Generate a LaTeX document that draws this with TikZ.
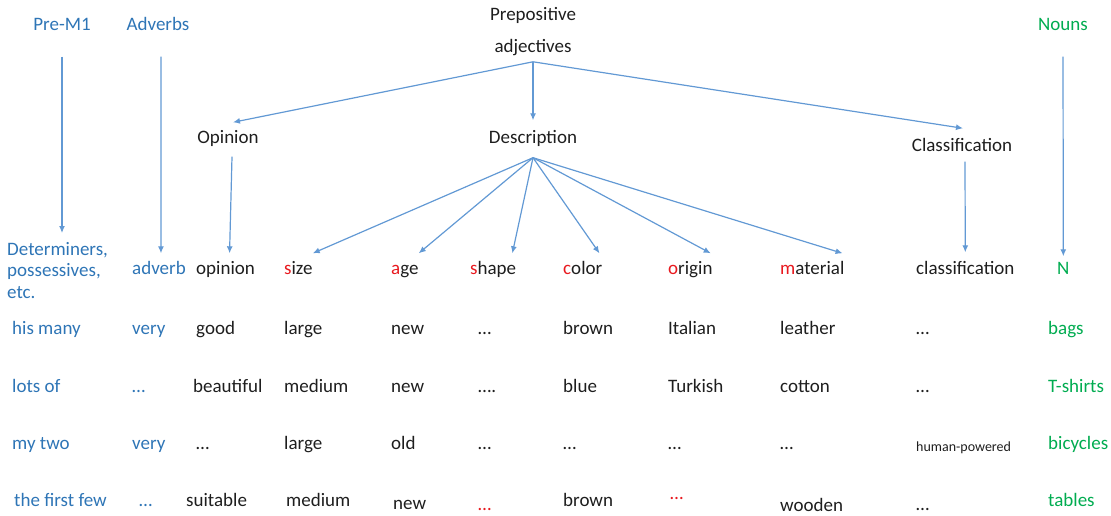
\documentclass[tikz,border=0pt]{standalone}
\usepackage{fontspec}
\setmainfont{Carlito}
\usetikzlibrary{arrows.meta}

\definecolor{tagblue}{RGB}{46,117,182}
\definecolor{noungreen}{RGB}{0,172,80}
\definecolor{linkblue}{RGB}{98,153,212}
\definecolor{firstred}{RGB}{232,24,30}
\definecolor{inkgray}{RGB}{30,30,30}
% 首字母标红
\newcommand{\fl}[2]{\textcolor{firstred}{#1}#2}

\begin{document}
\begin{tikzpicture}[x=1pt, y=-1pt,
    every node/.style={inner sep=0pt, text=inkgray, font=\fontsize{19}{23}\selectfont},
    word/.style={anchor=west, text height=15pt, text depth=2pt},
    head/.style={text height=15pt, text depth=2pt},
    tag/.style={text=tagblue},
    noun/.style={text=noungreen},
    link/.style={draw=linkblue, line width=1.2pt, -{Latex[length=7pt,width=6pt]}}]
    \useasboundingbox (0,0) rectangle (1111,516);

    % === 顶部标题 ===
    \node[head, tag] (prem) at (62,24) {Pre-M1};
    \node[head, tag] (advs) at (158,24) {Adverbs};
    \node[align=center, anchor=north, font=\fontsize{19}{32}\selectfont] (prep) at (533,7) {Prepositive\\adjectives};
    \node[head, noun] (nouns) at (1063,24) {Nouns};

    % 三个分类
    \node[head] (opi) at (228,137) {Opinion};
    \node[head] (desc) at (533,137) {Description};
    \node[head] (clsh) at (962,145) {Classification};

    % === 表头一行 ===
    \node[tag, align=left, anchor=north west, font=\fontsize{19}{21.5}\selectfont] (det) at (7,242) {Determiners,\\possessives,\\etc.};
    \node[word, tag] (adv) at (132,268) {adverb};
    \node[word] (opin) at (196,268) {opinion};
    \node[word] (size) at (284,268) {\fl{s}{ize}};
    \node[word] (age) at (391,268) {\fl{a}{ge}};
    \node[word] (shape) at (470,268) {\fl{s}{hape}};
    \node[word] (color) at (563,268) {\fl{c}{olor}};
    \node[word] (origin) at (668,268) {\fl{o}{rigin}};
    \node[word] (mat) at (780,268) {\fl{m}{aterial}};
    \node[word] (cls) at (916,268) {classification};
    \node[word, noun] (n) at (1057,268) {N};

    % === 例子 ===
    % 1
    \node[word, tag] (r1det) at (12,328) {his many};
    \node[word, tag] (r1adv) at (132,328) {very};
    \node[word] (r1opin) at (196,328) {good};
    \node[word] (r1size) at (284,328) {large};
    \node[word] (r1age) at (391,328) {new};
    \node[word] (r1shape) at (478,328) {…};
    \node[word] (r1color) at (563,328) {brown};
    \node[word] (r1origin) at (668,328) {Italian};
    \node[word] (r1mat) at (780,328) {leather};
    \node[word] (r1cls) at (916,328) {…};
    \node[word, noun] (r1n) at (1048,328) {bags};
    % 2
    \node[word, tag] (r2det) at (12,386) {lots of};
    \node[word, tag] (r2adv) at (132,386) {…};
    \node[word] (r2opin) at (193,386) {beautiful};
    \node[word] (r2size) at (284,386) {medium};
    \node[word] (r2age) at (391,386) {new};
    \node[word] (r2shape) at (478,386) {….};
    \node[word] (r2color) at (563,386) {blue};
    \node[word] (r2origin) at (668,386) {Turkish};
    \node[word] (r2mat) at (780,386) {cotton};
    \node[word] (r2cls) at (916,386) {…};
    \node[word, noun] (r2n) at (1048,386) {T-shirts};
    % 3
    \node[word, tag] (r3det) at (12,443) {my two};
    \node[word, tag] (r3adv) at (132,443) {very};
    \node[word] (r3opin) at (196,443) {…};
    \node[word] (r3size) at (284,443) {large};
    \node[word] (r3age) at (391,443) {old};
    \node[word] (r3shape) at (478,443) {…};
    \node[word] (r3color) at (563,443) {…};
    \node[word] (r3origin) at (668,443) {…};
    \node[word] (r3mat) at (780,443) {…};
    \node[word, font=\fontsize{14}{17}\selectfont] (r3cls) at (916,445) {human-powered};
    \node[word, noun] (r3n) at (1048,443) {bicycles};
    % 4
    \node[word, tag] (r4det) at (14,500) {the first few};
    \node[word, tag] (r4adv) at (139,500) {…};
    \node[word] (r4opin) at (186,500) {suitable};
    \node[word] (r4size) at (286,500) {medium};
    \node[word] (r4age) at (393,503) {new};
    \node[word, text=firstred] (r4shape) at (478,504) {…};
    \node[word] (r4color) at (563,500) {brown};
    \node[word, text=firstred] (r4origin) at (670,493) {…};
    \node[word] (r4mat) at (780,505) {wooden};
    \node[word] (r4cls) at (916,504) {…};
    \node[word, noun] (r4n) at (1048,500) {tables};

    % === 箭头 ===
    \coordinate (prepfork) at ([yshift=-6pt]prep.south);
    \coordinate (descfork) at ([yshift=-12pt]desc.south);

    \draw[link] ([yshift=-24pt]prem.south) -- ([yshift=9pt]prem.south |- det.north);
    \draw[link] ([xshift=3pt,yshift=-24pt]advs.south) -- ([xshift=2pt,yshift=6pt]adv.north);
    \draw[link] ([yshift=-24pt]nouns.south) -- ([yshift=3pt]n.north);

    % 形容词分三类
    \draw[link] (prepfork) -- ([xshift=5pt,yshift=6pt]opi.north);
    \draw[link] (prepfork) -- ([yshift=8pt]desc.north);
    \draw[link] (prepfork) -- ([xshift=1pt,yshift=8pt]clsh.north);
    \draw[link] ([xshift=4pt,yshift=-11pt]opi.south) -- ([xshift=4pt,yshift=6pt]opin.north);
    \draw[link] ([xshift=3pt,yshift=-8pt]clsh.south) -- ([yshift=7pt]cls.north);

    % 描述类：size age shape color origin material
    \draw[link] (descfork) -- ([yshift=6pt]size.north east);
    \draw[link] (descfork) -- ([yshift=6pt]age.north east);
    \draw[link] (descfork) -- ([xshift=-4pt,yshift=6pt]shape.north east);
    \draw[link] (descfork) -- ([xshift=-3pt,yshift=6pt]color.north east);
    \draw[link] (descfork) -- ([xshift=-2pt,yshift=6pt]origin.north east);
    \draw[link] (descfork) -- ([xshift=-2pt,yshift=6pt]mat.north east);
\end{tikzpicture}
\end{document}
